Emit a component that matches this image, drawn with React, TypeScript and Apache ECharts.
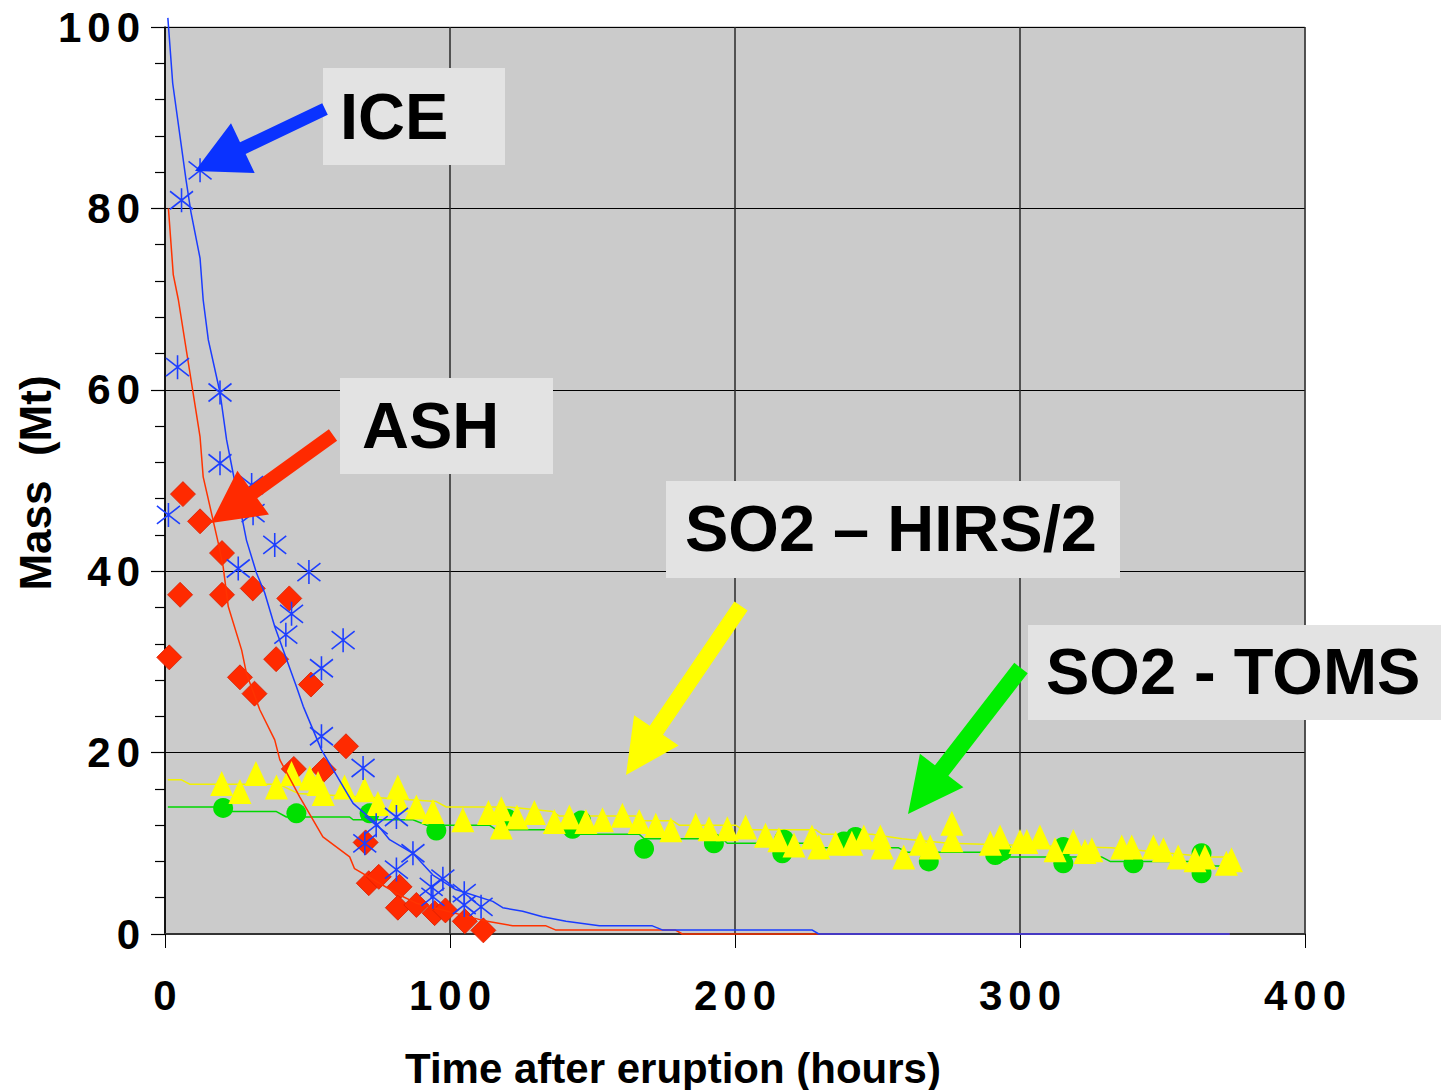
import React, { useEffect, useRef } from "react";
import * as echarts from "echarts";

// ---------- data (hours, Mt) ----------
const iceObsT = [1.2, 4.4, 5.8, 12.3, 19.3, 19.3, 30.4, 30.9, 25.7, 38.5, 50.5, 44.4, 42.4, 62.5, 54.9, 54.9, 69.5, 74.1, 81.2, 70.1, 87, 81.2, 97.5, 93.4, 94, 105, 105, 110.9];
const iceObsM = [46.2, 62.5, 80.9, 84.2, 59.7, 51.9, 49.5, 46.4, 40.3, 42.9, 39.9, 35.3, 33.0, 32.4, 29.3, 21.8, 18.3, 12.0, 12.9, 10.0, 8.9, 7.1, 6.1, 5.2, 4.1, 4.5, 3.2, 3.0];

const iceModT = [1, 2.7, 7.4, 9.1, 12.3, 13.4, 15.2, 19.3, 21.6, 23.9, 28.6, 32.1, 35, 38.5, 46.1, 48.5, 54.9, 66, 74.1, 78.8, 87, 94, 102, 115, 118.5, 125.5, 132.5, 140.7, 152.4, 171, 174.5, 227, 229.4, 373.6];
const iceModM = [101, 93.8, 83.1, 79.6, 74.5, 69.9, 65.5, 59.7, 54.5, 50.8, 43.4, 39.8, 37.6, 33.9, 27.3, 25.1, 20.3, 14.4, 12.2, 10.4, 8.9, 6.5, 4.9, 3.6, 2.9, 2.5, 1.9, 1.4, 0.9, 0.9, 0.45, 0.45, 0, 0];

const ashObsT = [1.5, 5.3, 6.3, 12.3, 20, 20, 30.8, 26.3, 31.4, 39, 43.6, 51.2, 63.5, 45.2, 55.7, 70.4, 71.5, 75, 82.3, 81.7, 88.2, 94.6, 98.4, 105.2, 111.7];
const ashObsM = [30.5, 37.4, 48.5, 45.5, 42, 37.4, 38.1, 28.3, 26.5, 30.3, 37.0, 27.5, 20.7, 18.2, 18.1, 10.1, 5.6, 6.3, 5.2, 2.9, 3.2, 2.3, 2.6, 1.4, 0.4];

const ashModT = [1.2, 2.9, 4.7, 12.3, 13.4, 18.7, 20.4, 22.2, 26.9, 28.6, 33.3, 38.5, 40.3, 47.3, 55.4, 64.8, 66.5, 82.3, 88.2, 111.5, 122, 133.7, 137, 179, 181.5, 373.6];
const ashModM = [80, 72.7, 69.9, 54.8, 50.4, 43.1, 40.5, 36.1, 31.3, 28.7, 24.7, 21.4, 19.2, 15.1, 10.7, 8.5, 7.2, 4.3, 3.4, 1.5, 0.9, 0.9, 0.45, 0.45, 0, 0];

const hirsObsT = [19.9, 26.3, 31.9, 39.1, 44.4, 50.8, 53.7, 55.5, 63, 70, 74.7, 81.7, 81.7, 88.2, 94, 104.5, 113.5, 118, 118, 123.5, 129.6, 136.6, 141.9, 147.7, 153.5, 160.5, 166.4, 172.2, 177.5, 186.2, 190.9, 197.3, 203.7, 210.7, 215.4, 220.7, 227, 229.4, 235.3, 241, 245.2, 251, 251.6, 259.2, 265, 268.5, 276.1, 276.1, 289.6, 293, 300, 302.4, 307, 312.3, 318.7, 322.8, 325.2, 335.7, 339.2, 346.8, 350.3, 355.5, 361.4, 364.9, 372.4, 374.2];
const hirsObsM = [16.6, 15.7, 17.7, 16.2, 17.7, 17.2, 16.6, 15.5, 16.2, 15.9, 14.4, 16.2, 14.8, 14.0, 13.5, 12.6, 13.4, 13.8, 11.8, 12.9, 13.4, 12.4, 12.9, 12.4, 12.6, 13.1, 12.4, 12.0, 11.5, 12.0, 11.6, 11.6, 11.8, 10.9, 10.4, 9.8, 10.7, 9.6, 10.0, 10.0, 10.7, 10.7, 9.6, 8.5, 10.0, 9.6, 12.2, 10.4, 10.0, 10.7, 10.2, 10.2, 10.7, 9.3, 10.2, 9.1, 9.3, 9.6, 9.6, 9.6, 9.3, 8.5, 8.2, 8.5, 7.8, 8.2];

const hirsModT = [1, 5.8, 8.8, 40, 46.7, 76.5, 95.2, 98.7, 120.8, 136, 138.4, 165.2, 167.5, 178, 180.4, 200.2, 202.6, 228.2, 230.6, 248, 258.6, 275, 332, 366.6, 373.6];
const hirsModM = [17, 17, 16.5, 16.5, 15.5, 15.0, 14.6, 14.0, 14.0, 13.5, 13.0, 13.0, 12.5, 12.5, 12.0, 12.0, 11.5, 11.5, 11.0, 11.0, 10.5, 10.0, 9.5, 8.5, 8.5];

const tomsObsT = [20.4, 46.1, 71.8, 95.2, 120.2, 143, 146, 168.1, 192.6, 216.6, 217.2, 238.2, 242.3, 268, 291.3, 293.6, 315.2, 315.2, 339.8, 363.7, 363.7];
const tomsObsM = [13.9, 13.3, 13.3, 11.4, 12.7, 11.6, 12.5, 9.4, 10.0, 8.9, 10.4, 10.2, 10.7, 8.0, 8.7, 9.1, 9.6, 7.8, 7.8, 8.9, 6.7];

const tomsModT = [1, 21.6, 23.4, 39.1, 42.6, 64.8, 66, 87, 91.7, 113.8, 116.2, 140.7, 143, 166.4, 168.1, 195.6, 197.3, 226, 229.4, 257.4, 260.4, 292.5, 294.2, 328.6, 331.6, 365.4, 368.4, 373.6];
const tomsModM = [14.0, 14.0, 13.5, 13.5, 12.9, 12.9, 12.6, 12.6, 12.0, 12.0, 11.5, 11.5, 11.0, 11.0, 10.5, 10.5, 10.0, 10.0, 9.5, 9.5, 9.0, 9.0, 8.5, 8.5, 8.0, 8.0, 7.5, 7.5];

const xRange = [0, 400];
const yRange = [0, 100];
const xStep = 100;
const yStep = 20;

const labelTexts = ["ICE", "ASH", "SO2 \u2013 HIRS/2", "SO2 - TOMS"];
const xTitle = "Time after eruption (hours)";
const yTitle = "Mass  (Mt)";

// ---------- helpers ----------
const zip = (t: number[], m: number[]) => t.map((v, i) => [v, m[i]]);
const FONT = "'Liberation Sans', Arial, Helvetica, sans-serif";
const spaced = (v: number) =>
  String(v)
    .split("")
    .map((c) => `{d|${c}}`)
    .join("");

function arrow(
  tail: [number, number],
  tip: [number, number],
  shaftW: number,
  headL: number,
  headW: number
) {
  const dx = tip[0] - tail[0];
  const dy = tip[1] - tail[1];
  const L = Math.hypot(dx, dy);
  const ux = dx / L;
  const uy = dy / L;
  const px = -uy;
  const py = ux;
  const bx = tip[0] - ux * headL;
  const by = tip[1] - uy * headL;
  return [
    [tail[0] + (px * shaftW) / 2, tail[1] + (py * shaftW) / 2],
    [bx + (px * shaftW) / 2, by + (py * shaftW) / 2],
    [bx + (px * headW) / 2, by + (py * headW) / 2],
    [tip[0], tip[1]],
    [bx - (px * headW) / 2, by - (py * headW) / 2],
    [bx - (px * shaftW) / 2, by - (py * shaftW) / 2],
    [tail[0] - (px * shaftW) / 2, tail[1] - (py * shaftW) / 2],
  ];
}

function box(x: number, y: number, w: number, h: number, text: string, tx: number, ty: number) {
  return [
    {
      type: "rect",
      shape: { x, y, width: w, height: h },
      style: { fill: "#e3e3e3" },
      z: 10,
    },
    {
      type: "text",
      x: tx,
      y: ty,
      style: {
        text,
        fill: "#000",
        fontSize: 65,
        fontWeight: "bold",
        fontFamily: FONT,
        align: "left",
        verticalAlign: "middle",
      },
      z: 11,
    },
  ];
}

export default function App() {
  const ref = useRef<HTMLDivElement>(null);

  useEffect(() => {
    if (!ref.current) return;
    const chart = echarts.init(ref.current, null, { renderer: "svg" });

    const labelRich = {
      d: {
        fontSize: 42,
        fontWeight: "bold",
        fontFamily: FONT,
        color: "#000",
        padding: [0, 3, 0, 3],
      },
    };

    const option: any = {
      animation: false,
      backgroundColor: "#ffffff",
      grid: {
        left: 165,
        top: 27,
        right: 136,
        bottom: 156,
        show: true,
        backgroundColor: "#cbcbcb",
        borderColor: "#a8a8a8",
        borderWidth: 1,
      },
      xAxis: {
        type: "value",
        min: xRange[0],
        max: xRange[1],
        interval: xStep,
        axisLine: { show: true, lineStyle: { color: "#333", width: 2 } },
        axisTick: { show: true, length: 14, lineStyle: { color: "#000", width: 1 } },
        axisLabel: {
          formatter: spaced,
          rich: labelRich,
          fontSize: 42,
          fontWeight: "bold",
          fontFamily: FONT,
          color: "#000",
          margin: 40,
          verticalAlign: "top",
          showMinLabel: true,
          showMaxLabel: true,
        },
        splitLine: { show: true, lineStyle: { color: "#2a2a2a", width: 1.5 } },
      },
      yAxis: {
        type: "value",
        min: yRange[0],
        max: yRange[1],
        interval: yStep,
        axisLine: { show: true, lineStyle: { color: "#000", width: 1.5 } },
        axisTick: { show: true, length: 14, lineStyle: { color: "#000", width: 1.2 } },
        minorTick: { show: true, splitNumber: 5, length: 10, lineStyle: { color: "#000", width: 1.2 } },
        axisLabel: {
          formatter: spaced,
          rich: labelRich,
          fontSize: 42,
          fontWeight: "bold",
          fontFamily: FONT,
          color: "#000",
          margin: 22,
          showMinLabel: true,
          showMaxLabel: true,
        },
        splitLine: { show: true, lineStyle: { color: "#000", width: 1 } },
      },
      series: [
        {
          type: "line",
          data: zip(hirsModT, hirsModM),
          symbol: "none",
          lineStyle: { color: "#f2f200", width: 1.5 },
          z: 2,
        },
        {
          type: "line",
          data: zip(tomsModT, tomsModM),
          symbol: "none",
          lineStyle: { color: "#00d800", width: 1.5 },
          z: 2,
        },
        {
          type: "scatter",
          data: zip(tomsObsT, tomsObsM),
          symbol: "circle",
          symbolSize: 20,
          itemStyle: { color: "#00e000", opacity: 1 },
          z: 3,
        },
        {
          type: "scatter",
          data: zip(ashObsT, ashObsM),
          symbol: "diamond",
          symbolSize: [25, 25],
          itemStyle: { color: "#ff2a00", borderColor: "#d81e00", borderWidth: 0.8, opacity: 1 },
          z: 4,
        },
        {
          type: "scatter",
          data: zip(hirsObsT, hirsObsM),
          symbol: "triangle",
          symbolSize: [23, 25],
          itemStyle: { color: "#ffff00", opacity: 1 },
          z: 5,
        },
        {
          type: "line",
          data: zip(ashModT, ashModM),
          symbol: "none",
          clip: false,
          lineStyle: { color: "#ff3300", width: 1.5 },
          z: 6,
        },
        {
          type: "line",
          data: zip(iceModT, iceModM),
          symbol: "none",
          clip: false,
          lineStyle: { color: "#1a3cff", width: 1.5 },
          z: 7,
        },
        {
          type: "scatter",
          data: zip(iceObsT, iceObsM),
          symbol: "path://M0,-12L0,12M-11,-9L11,9M-11,9L11,-9",
          symbolSize: [23, 24],
          itemStyle: { color: "#1d3fff", borderColor: "#1d3fff", borderWidth: 1.6, opacity: 1 },
          z: 8,
        },
      ],
      graphic: [
        ...box(323, 68, 182, 97, labelTexts[0], 340, 116),
        ...box(340, 378, 213, 96, labelTexts[1], 362, 425),
        ...box(666, 481, 454, 97, labelTexts[2], 685, 528),
        ...box(1028, 625, 413, 95, labelTexts[3], 1046, 671),
        {
          type: "polygon",
          shape: { points: arrow([325, 109], [195, 171], 13, 53, 55) },
          style: { fill: "#0a32ff" },
          z: 12,
        },
        {
          type: "polygon",
          shape: { points: arrow([333, 435], [211, 523], 14, 52, 54) },
          style: { fill: "#ff2a00" },
          z: 12,
        },
        {
          type: "polygon",
          shape: { points: arrow([741, 606], [626, 775], 16, 54, 54) },
          style: { fill: "#ffff00" },
          z: 12,
        },
        {
          type: "polygon",
          shape: { points: arrow([1021, 668], [908, 814], 17, 55, 55) },
          style: { fill: "#00ee00" },
          z: 12,
        },
        {
          type: "text",
          x: 673,
          y: 1068,
          style: {
            text: xTitle,
            fill: "#000",
            fontSize: 42,
            fontWeight: "bold",
            fontFamily: FONT,
            align: "center",
            verticalAlign: "middle",
          },
        },
        {
          type: "text",
          x: 35,
          y: 483,
          rotation: Math.PI / 2,
          style: {
            text: yTitle,
            fill: "#000",
            fontSize: 44,
            fontWeight: "bold",
            fontFamily: FONT,
            align: "center",
            verticalAlign: "middle",
          },
        },
      ],
    };

    chart.setOption(option);
    return () => chart.dispose();
  }, []);

  return (
    <div
      ref={ref}
      style={{ position: "absolute", left: 0, top: 0, width: 1441, height: 1090 }}
    />
  );
}
